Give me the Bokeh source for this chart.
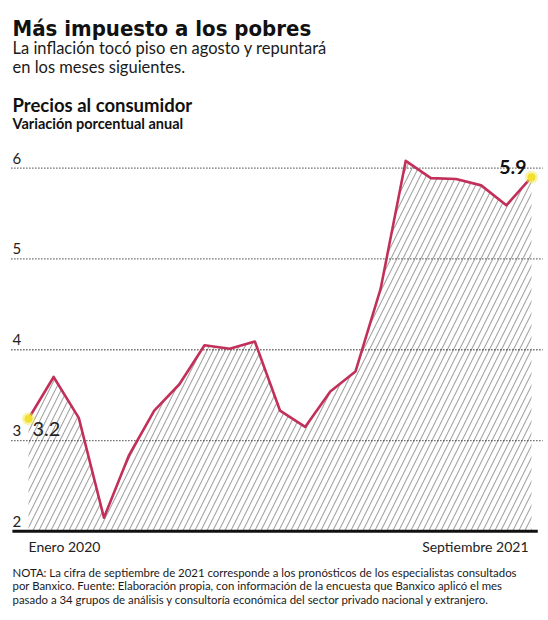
from bokeh.plotting import figure
from bokeh.models import Label, ColumnDataSource
from bokeh.core.properties import value
from bokeh.embed import file_html
from bokeh.resources import INLINE

# ---- data ----
months = ["Ene 2020", "Feb 2020", "Mar 2020", "Abr 2020", "May 2020", "Jun 2020",
          "Jul 2020", "Ago 2020", "Sep 2020", "Oct 2020", "Nov 2020", "Dic 2020",
          "Ene 2021", "Feb 2021", "Mar 2021", "Abr 2021", "May 2021", "Jun 2021",
          "Jul 2021", "Ago 2021", "Sep 2021"]
inflation = [3.24, 3.70, 3.25, 2.15, 2.84, 3.33, 3.62, 4.05, 4.01, 4.09, 3.33, 3.15,
             3.54, 3.76, 4.67, 6.08, 5.89, 5.88, 5.81, 5.59, 5.90]
y_ticks = [2, 3, 4, 5, 6]
y_tick_labels = ["2", "3", "4", "5", "6"]
x_labels = ["Enero 2020", "Septiembre 2021"]
first_label = "3.2"
last_label = "5.9"

title_text = "Más impuesto a los pobres"
subtitle_lines = ["La inflación tocó piso en agosto y repuntará", "en los meses siguientes."]
chart_title = "Precios al consumidor"
chart_subtitle = "Variación porcentual anual"
note_lines = [
    "NOTA: La cifra de septiembre de 2021 corresponde a los pronósticos de los especialistas consultados",
    "por Banxico. Fuente: Elaboración propia, con información de la encuesta que Banxico aplicó el mes",
    "pasado a 34 grupos de análisis y consultoría económica del sector privado nacional y extranjero.",
]

BODY = "Lato"
TITLE_FONT = "'Noto Sans Condensed', 'DejaVu Sans Condensed', sans-serif"
W, H = 548, 620
idx = list(range(len(inflation)))
n = len(inflation)

p = figure(width=W, height=H, output_backend="svg", toolbar_location=None,
           x_range=(-1.113, 20.676), y_range=(1.018, 7.846),
           x_axis_location=None, y_axis_location=None,
           min_border=0, min_border_left=0, min_border_right=0,
           min_border_top=0, min_border_bottom=0)
p.outline_line_color = None
p.xgrid.visible = False
p.ygrid.visible = False
p.background_fill_color = "white"
p.border_fill_color = "white"

src = ColumnDataSource(dict(x=idx, y=inflation, base=[min(y_ticks)] * n))

# hatched area
p.varea(x="x", y1="base", y2="y", source=src, fill_color=None, fill_alpha=0,
        hatch_pattern="/", hatch_color="#a4a4a4", hatch_scale=12, hatch_weight=1.1)

# dotted grid lines
gx0 = [-0.68] * (len(y_ticks) - 1)
gx1 = [20.45] * (len(y_ticks) - 1)
p.segment(x0=gx0, x1=gx1, y0=y_ticks[1:], y1=y_ticks[1:],
          line_color="#222222", line_width=1.3, line_dash="1 2")

# baseline
p.segment(x0=[-0.64], x1=[20.25], y0=[y_ticks[0]], y1=[y_ticks[0]],
          line_color="#111111", line_width=3)

# line
p.line(x="x", y="y", source=src, line_color="#c2305a", line_width=2.6, line_join="round")

# yellow dots at ends
p.scatter(x=[idx[0], idx[-1]], y=[inflation[0], inflation[-1]], size=13,
          fill_color="#f4ea5a", line_color=None, fill_alpha=0.5)
p.scatter(x=[idx[0], idx[-1]], y=[inflation[0], inflation[-1]], size=8,
          fill_color="#f2e030", line_color=None)

# y tick labels
p.text(x=[0] * len(y_ticks), y=y_ticks, text=y_tick_labels, x_offset=-16, y_offset=-10,
       text_font=value(BODY), text_font_size="15px", text_color="#222222",
       text_align="left", text_baseline="alphabetic")

# end labels
p.text(x=[idx[0]], y=[inflation[0]], text=[first_label], x_offset=4, y_offset=10,
       text_font=value(BODY), text_font_size="20px", text_color="#222222",
       text_align="left", text_baseline="alphabetic")
p.text(x=[idx[-1]], y=[inflation[-1]], text=[last_label], x_offset=-5, y_offset=-10,
       text_font=value(BODY), text_font_size="19.5px", text_font_style="bold",
       text_color="#111111", text_align="right", text_baseline="alphabetic")

# x labels
p.text(x=[idx[0], idx[-1]], y=[y_ticks[0]] * 2, text=x_labels, x_offset=[0, -3], y_offset=15,
       text_font=value(BODY), text_font_size="14px", text_color="#222222",
       text_align=["left", "right"], text_baseline="alphabetic")


def lab(txt, px, py, size, font=BODY, style="normal", color="#1a1a1a"):
    p.add_layout(Label(x=px, y=H - py, x_units="screen", y_units="screen",
                       text=txt, text_font=font, text_font_size=size,
                       text_font_style=style, text_color=color,
                       text_align="left", text_baseline="alphabetic"))


lab(title_text, 12, 28, "22px", font=TITLE_FONT, style="bold", color="#111111")
lab(subtitle_lines[0], 12, 47, "16.5px")
lab(subtitle_lines[1], 12, 66, "16.5px")
lab(chart_title, 12, 104, "18.5px", style="bold", color="#111111")
lab(chart_subtitle, 12, 123, "14.5px", style="bold", color="#111111")
for k, line in enumerate(note_lines):
    lab(line, 12, 571.5 + 13.5 * k, "11.4px")

open("out.html", "w").write(file_html(p, INLINE))
